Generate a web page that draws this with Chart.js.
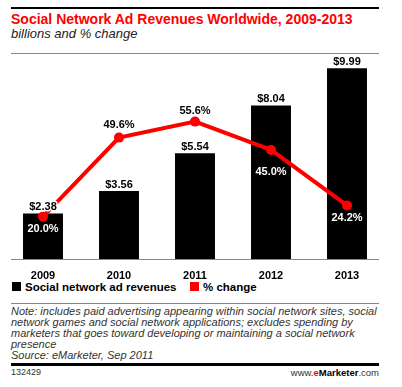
<!DOCTYPE html>
<html><head><meta charset="utf-8">
<script src="https://cdn.jsdelivr.net/npm/chart.js@4/dist/chart.umd.min.js"></script>
<style>
html,body{margin:0;padding:0;background:#fff;width:402px;height:387px;overflow:hidden;font-family:"Liberation Sans",Arial,sans-serif;}
.abs{position:absolute;white-space:nowrap;}
#wrap{position:absolute;left:0;top:0;width:402px;height:279px;}
.rule{position:absolute;left:11px;width:368px;}
</style></head>
<body>
<div class="rule" style="top:7px;height:2px;background:#000"></div>
<div class="abs" style="left:11px;top:11px;font-size:14px;font-weight:bold;color:#f00;line-height:16px">Social Network Ad Revenues Worldwide, 2009-2013</div>
<div class="abs" style="left:11px;top:26px;font-size:13px;font-style:italic;color:#222;line-height:16px">billions and % change</div>
<div class="rule" style="top:53px;height:1px;background:#888"></div>
<div id="wrap"><canvas id="c" width="402" height="279"></canvas></div>
<div class="abs" style="left:12px;top:282px;width:9px;height:9px;background:#000"></div>
<div class="abs" style="left:25px;top:280px;font-size:11.5px;font-weight:bold;line-height:14px">Social network ad revenues</div>
<div class="abs" style="left:190px;top:282px;width:9px;height:9px;background:#f00"></div>
<div class="abs" style="left:203px;top:280px;font-size:11.5px;font-weight:bold;line-height:14px">% change</div>
<div class="rule" style="top:303px;height:1px;background:#888"></div>
<div class="abs" style="left:11px;top:305.5px;font-size:11px;font-style:italic;color:#333;line-height:11.2px;white-space:normal;width:376px">Note: includes paid advertising appearing within social network sites, social network games and social network applications; excludes spending by marketers that goes toward developing or maintaining a social network presence<br>Source: eMarketer, Sep 2011</div>
<div class="rule" style="top:363px;height:3px;background:#000"></div>
<div class="abs" style="left:11px;top:367px;font-size:9px;color:#333;line-height:11px">132429</div>
<div class="abs" style="right:23px;top:367px;font-size:9.5px;color:#333;line-height:11px">www.<b style="color:#f00">e</b><b style="color:#000">Marketer</b>.com</div>
<script>
const categories = ["2009","2010","2011","2012","2013"];
const revenues = [2.38, 3.56, 5.54, 8.04, 9.99];
const pctChange = [20.0, 49.6, 55.6, 45.0, 24.2];
const revenueLabels = ["$2.38","$3.56","$5.54","$8.04","$9.99"];
const pctLabels = ["20.0%","49.6%","55.6%","45.0%","24.2%"];

const pctPlacement = [{dy:12,color:"#fff"},{dy:-13,color:"#000"},{dy:-11,color:"#000"},{dy:22,color:"#fff"},{dy:13,color:"#fff"}];

const labelPlugin = {
  id:"labels",
  afterDatasetsDraw(chart){
    const ctx = chart.ctx;
    ctx.save();
    ctx.font = "bold 11px 'Liberation Sans', Arial, sans-serif";
    ctx.textAlign = "center";
    ctx.lineJoin = "round";
    const barMeta = chart.getDatasetMeta(1);
    barMeta.data.forEach((el,i)=>{
      ctx.textBaseline = "bottom";
      ctx.strokeStyle = "#fff";
      ctx.lineWidth = 3;
      ctx.strokeText(revenueLabels[i], el.x, el.y - 1);
      ctx.fillStyle = "#000";
      ctx.fillText(revenueLabels[i], el.x, el.y - 1);
    });
    const lineMeta = chart.getDatasetMeta(0);
    ctx.textBaseline = "middle";
    lineMeta.data.forEach((el,i)=>{
      ctx.fillStyle = pctPlacement[i].color;
      ctx.fillText(pctLabels[i], el.x, el.y + pctPlacement[i].dy);
    });
    const y0 = chart.scales.y.getPixelForValue(0);
    ctx.strokeStyle = "#888";
    ctx.lineWidth = 1;
    ctx.beginPath();
    ctx.moveTo(11, Math.round(y0)+0.5);
    ctx.lineTo(379, Math.round(y0)+0.5);
    ctx.stroke();
    ctx.restore();
  }
};

new Chart(document.getElementById("c"), {
  data:{
    labels: categories,
    datasets:[
      {type:"line", label:"% change", data:pctChange, yAxisID:"y1", borderColor:"#f00", backgroundColor:"#f00", borderWidth:4, pointRadius:5, pointBackgroundColor:"#f00", pointBorderWidth:0, tension:0, order:0},
      {type:"bar", label:"Social network ad revenues", data:revenues, yAxisID:"y", backgroundColor:"#000", barPercentage:0.526, categoryPercentage:1, order:1}
    ]
  },
  options:{
    responsive:false,
    animation:false,
    layout:{padding:{left:5,right:17,top:49,bottom:0}},
    plugins:{legend:{display:false}, tooltip:{enabled:false}},
    scales:{
      x:{grid:{display:false}, border:{display:false},
         ticks:{color:"#000", padding:2, font:{family:"'Liberation Sans', Arial, sans-serif", size:11, weight:"bold"}},
         afterFit(s){ s.height = 20; }},
      y:{display:false, min:0, max:11},
      y1:{display:false, min:4.12, max:82.8}
    }
  },
  plugins:[labelPlugin]
});
</script>
</body></html>
